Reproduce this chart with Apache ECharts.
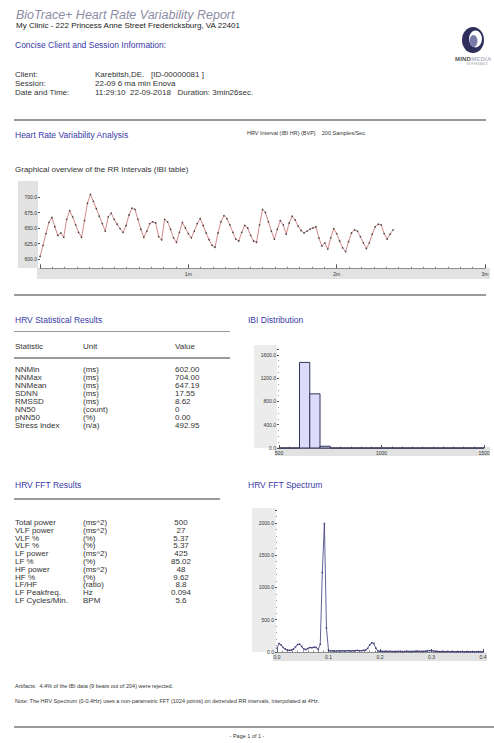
<!DOCTYPE html>
<html>
<head>
<meta charset="utf-8">
<title>BioTrace+ Heart Rate Variability Report</title>
<script src="https://cdn.jsdelivr.net/npm/echarts@6/dist/echarts.min.js"></script>
<style>
  body { margin: 0; background: #fff; font-family: "Liberation Sans", Arial, sans-serif; color: #333; }
  #page { position: relative; width: 494px; height: 743px; overflow: hidden; }
  #chart { position: absolute; left: 0; top: 0; width: 494px; height: 743px; }
  .t { position: absolute; white-space: nowrap; line-height: 1; font-size: 8px; }
  .h { color: #3a3aa8; font-size: 8.5px; }
  .tiny { font-size: 5.5px; }
  .rule { position: absolute; background: #9a9a9a; height: 2px; }
</style>
</head>
<body>
<div id="page">
  <div id="chart"></div>

  <div class="t" style="left:16px;top:9px;font-size:12.5px;font-style:italic;color:#8c8ca4">BioTrace+ Heart Rate Variability Report</div>
  <div class="t" style="left:16px;top:22px;color:#222">My Clinic - 222 Princess Anne Street Fredericksburg, VA 22401</div>

  <svg style="position:absolute;left:460px;top:26px" width="26" height="28" viewBox="0 0 26 28">
    <ellipse cx="13" cy="14" rx="11" ry="13" fill="#2e2e5c"/>
    <ellipse cx="15.5" cy="13" rx="6.5" ry="8.5" fill="#fff"/>
    <ellipse cx="13.5" cy="15" rx="4" ry="6" fill="#7a7aa8"/>
  </svg>
  <div class="t" style="left:455px;top:56px;font-size:6px;font-weight:bold;letter-spacing:0.2px"><span style="color:#555">MIND</span><span style="color:#b4b4cc">MEDIA</span></div>
  <div class="t" style="right:6px;top:63px;font-size:3px;color:#aaa">BIOFEEDBACK</div>

  <div class="t h" style="left:15px;top:41px">Concise Client and Session Information:</div>
  <div class="t" style="left:15px;top:71px">Client:</div>
  <div class="t" style="left:95px;top:71px">Karebitsh,DE.&nbsp;&nbsp;&nbsp;[ID-00000081 ]</div>
  <div class="t" style="left:15px;top:80px">Session:</div>
  <div class="t" style="left:95px;top:80px">22-09 6 ma min Enova</div>
  <div class="t" style="left:15px;top:89px">Date and Time:</div>
  <div class="t" style="left:95px;top:89px">11:29:10&nbsp;&nbsp;22-09-2018&nbsp;&nbsp;&nbsp;Duration: 3min26sec.</div>

  <div class="rule" style="left:14px;top:119px;width:472px"></div>
  <div class="t h" style="left:15px;top:131px">Heart Rate Variability Analysis</div>
  <div class="t tiny" style="left:247px;top:131px">HRV Interval (IBI HR) (BVP)&nbsp;&nbsp;&nbsp;&nbsp;200 Samples/Sec.</div>
  <div class="t" style="left:15px;top:166px">Graphical overview of the RR Intervals (IBI table)</div>
  <div class="rule" style="left:14px;top:294px;width:472px;height:1.5px"></div>

  <div class="t h" style="left:15px;top:316px">HRV Statistical Results</div>
  <div class="rule" style="left:14px;top:331px;width:216px;height:1px"></div>
  <div class="t" style="left:15px;top:343px">Statistic</div>
  <div class="t" style="left:83px;top:343px">Unit</div>
  <div class="t" style="left:175px;top:343px">Value</div>
  <div class="rule" style="left:14px;top:357px;width:216px"></div>
  <div id="statRows"></div>

  <div class="t h" style="left:248px;top:316px">IBI Distribution</div>

  <div class="t h" style="left:15px;top:481px">HRV FFT Results</div>
  <div class="rule" style="left:14px;top:498px;width:206px;height:1.5px"></div>
  <div id="fftRows"></div>

  <div class="t h" style="left:248px;top:481px">HRV FFT Spectrum</div>

  <div class="t" style="left:15px;top:684px;font-size:5.5px">Artifacts:&nbsp;&nbsp;4.4% of the IBI data (9 beats out of 204) were rejected.</div>
  <div class="t" style="left:15px;top:699px;font-size:5.5px">Note: The HRV Spectrum (0-0.4Hz) uses a non-parametric FFT (1024 points) on detrended RR intervals, interpolated at 4Hz.</div>
  <div class="rule" style="left:14px;top:726px;width:480px"></div>
  <div class="t" style="left:0;width:494px;text-align:center;top:734px;font-size:5.5px">- Page 1 of 1 -</div>
</div>

<script>
// RR intervals (ms), one value every rrStepSec seconds
const rrStepSec = 1.2;
const rrValues = [
  604, 622, 641, 659, 667, 652, 638, 642, 635, 664, 678, 668, 655, 643, 635, 662,
  690, 704, 693, 681, 669, 657, 645, 668, 674, 664, 656, 649, 643, 654, 671, 682,
  680, 664, 648, 635, 645, 657, 660, 658, 636, 631, 664, 660, 648, 634, 627, 643,
  659, 650, 641, 634, 645, 657, 665, 654, 642, 631, 622, 619, 642, 660, 670, 665,
  655, 643, 632, 629, 643, 654, 650, 638, 629, 627, 655, 680, 675, 660, 645, 632,
  648, 662, 655, 640, 658, 669, 663, 653, 646, 642, 645, 648, 650, 652, 634, 621,
  626, 616, 634, 649, 641, 629, 618, 612, 628, 642, 647, 645, 636, 626, 617, 626,
  640, 652, 656, 655, 641, 632, 640, 647
];
const rrTicks = [600, 625, 650, 675, 700];

// IBI histogram: bin edges (ms) and counts
const ibiBinStart = [500, 550, 600, 650, 700, 750, 800, 850, 900, 950, 1000, 1050, 1100, 1150, 1200, 1250, 1300, 1350, 1400, 1450];
const ibiBinWidth = 50;
const ibiCounts = [0, 0, 1470, 930, 30, 0, 0, 0, 0, 0, 0, 0, 0, 0, 0, 0, 0, 0, 0, 0];

// FFT spectrum (ms^2/Hz), one bin every fftStepHz
const fftStepHz = 0.004;
const fftPower = [
  60, 130, 110, 70, 45, 30, 25, 30, 45, 80, 115, 120, 85, 45, 40, 55,
  70, 65, 75, 70, 40, 120, 1230, 1990, 370, 25, 15, 20, 15, 15, 20, 15,
  20, 15, 20, 20, 15, 20, 20, 25, 20, 20, 25, 30, 55, 110, 145, 130,
  60, 15, 10, 10, 8, 10, 8, 10, 8, 6, 8, 10, 8, 6, 8, 10,
  8, 6, 8, 10, 12, 10, 8, 10, 12, 15, 20, 22, 15, 10, 8, 6,
  8, 6, 5, 6, 5, 6, 5, 4, 5, 6, 5, 4, 5, 4, 5, 4,
  5, 4, 5, 4, 5
];

// tables
const statNames = ["NNMin", "NNMax", "NNMean", "SDNN", "RMSSD", "NN50", "pNN50", "Stress Index"];
const statUnits = ["(ms)", "(ms)", "(ms)", "(ms)", "(ms)", "(count)", "(%)", "(n/a)"];
const statValues = ["602.00", "704.00", "647.19", "17.55", "8.62", "0", "0.00", "492.95"];

const fftNames = ["Total power", "VLF power", "VLF %", "VLF %", "LF power", "LF %", "HF power", "HF %", "LF/HF", "LF Peakfreq.", "LF Cycles/Min."];
const fftUnits = ["(ms^2)", "(ms^2)", "(%)", "(%)", "(ms^2)", "(%)", "(ms^2)", "(%)", "(ratio)", "Hz", "BPM"];
const fftValues = ["500", "27", "5.37", "5.37", "425", "85.02", "48", "9.62", "8.8", "0.094", "5.6"];

function addRows(el, names, units, values, top, step, valueX, center) {
  let html = "";
  names.forEach((n, i) => {
    const y = top + i * step;
    html += `<div class="t" style="left:15px;top:${y}px">${n}</div>`;
    html += `<div class="t" style="left:83px;top:${y}px">${units[i]}</div>`;
    if (center) {
      html += `<div class="t" style="left:${valueX - 20}px;width:40px;text-align:center;top:${y}px">${values[i]}</div>`;
    } else {
      html += `<div class="t" style="left:${valueX}px;top:${y}px">${values[i]}</div>`;
    }
  });
  document.getElementById(el).innerHTML = html;
}
addRows("statRows", statNames, statUnits, statValues, 365.5, 8.1, 175, false);
addRows("fftRows", fftNames, fftUnits, fftValues, 519, 7.8, 181, true);

const chart = echarts.init(document.getElementById("chart"), null, { renderer: "svg" });

const smallLabel = { fontSize: 5, color: "#333", fontFamily: "Liberation Sans, Arial, sans-serif" };
const band = "#e2e2e2";

const option = {
  animation: false,
  graphic: [
    { type: "rect", shape: { x: 18, y: 181, width: 20, height: 87 }, style: { fill: band }, z: -10 },
    { type: "rect", shape: { x: 37, y: 268, width: 453, height: 11 }, style: { fill: band }, z: -10 },
    { type: "rect", shape: { x: 254, y: 345, width: 23, height: 103 }, style: { fill: "#ececec" }, z: -10 },
    { type: "rect", shape: { x: 275, y: 447, width: 215, height: 9 }, style: { fill: band }, z: -10 },
    { type: "rect", shape: { x: 252, y: 508, width: 24, height: 144 }, style: { fill: "#ececec" }, z: -10 },
    { type: "rect", shape: { x: 273, y: 652, width: 214, height: 9 }, style: { fill: band }, z: -10 }
  ],
  grid: [
    { left: 40, top: 181.5, width: 445, height: 86.8 },
    { left: 279, top: 349, width: 205, height: 99 },
    { left: 277, top: 510, width: 206, height: 142 }
  ],
  xAxis: [
    {
      gridIndex: 0, type: "value", min: 0, max: 180, interval: 60,
      axisLine: { lineStyle: { color: "#777", width: 0.8 } },
      axisTick: { inside: true, length: 4, lineStyle: { color: "#555" } },
      minorTick: { show: true, splitNumber: 12, length: 1.5, lineStyle: { color: "#888" } },
      axisLabel: { ...smallLabel, margin: 3, formatter: v => (v === 0 ? "" : v / 60 + "m") },
      splitLine: { show: false }
    },
    {
      gridIndex: 1, type: "value", min: 500, max: 1500, interval: 500,
      axisLine: { lineStyle: { color: "#777", width: 0.8 } },
      axisTick: { inside: true, length: 3, lineStyle: { color: "#555" } },
      minorTick: { show: true, splitNumber: 10, length: 1.5, lineStyle: { color: "#888" } },
      axisLabel: { ...smallLabel, margin: 2, formatter: v => String(v) },
      splitLine: { show: false }
    },
    {
      gridIndex: 2, type: "value", min: 0, max: 0.4, interval: 0.1,
      axisLine: { lineStyle: { color: "#777", width: 0.8 } },
      axisTick: { inside: true, length: 3, lineStyle: { color: "#555" } },
      minorTick: { show: true, splitNumber: 10, length: 1.5, lineStyle: { color: "#888" } },
      axisLabel: { ...smallLabel, margin: 2, formatter: v => v.toFixed(1) },
      splitLine: { show: false }
    }
  ],
  yAxis: [
    {
      gridIndex: 0, type: "value", min: 585, max: 725,
      axisLine: { show: false },
      axisTick: { show: true, length: 2, customValues: rrTicks, lineStyle: { color: "#555" } },
      axisLabel: { ...smallLabel, margin: 3, customValues: rrTicks, formatter: v => v.toFixed(1) },
      splitLine: { show: false }
    },
    {
      gridIndex: 1, type: "value", min: 0, max: 1700, interval: 400,
      axisLine: { show: false },
      axisTick: { show: true, length: 2, lineStyle: { color: "#555" } },
      minorTick: { show: true, splitNumber: 4, length: 1, lineStyle: { color: "#999" } },
      axisLabel: { ...smallLabel, margin: 3, showMaxLabel: false, formatter: v => v.toFixed(1) },
      splitLine: { show: false }
    },
    {
      gridIndex: 2, type: "value", min: 0, max: 2200, interval: 500,
      axisLine: { show: false },
      axisTick: { show: true, length: 2, lineStyle: { color: "#555" } },
      minorTick: { show: true, splitNumber: 5, length: 1, lineStyle: { color: "#999" } },
      axisLabel: { ...smallLabel, margin: 3, showMaxLabel: false, formatter: v => v.toFixed(1) },
      splitLine: { show: false }
    }
  ],
  series: [
    {
      type: "line", xAxisIndex: 0, yAxisIndex: 0,
      data: rrValues.map((v, i) => [i * rrStepSec, v]),
      lineStyle: { color: "#c86a6a", width: 0.8 },
      symbol: "circle", symbolSize: 1.6,
      itemStyle: { color: "#444" }
    },
    {
      type: "custom", xAxisIndex: 1, yAxisIndex: 1,
      data: ibiBinStart.map((s, i) => [s, s + ibiBinWidth, ibiCounts[i]]),
      renderItem: (params, api) => {
        const p0 = api.coord([api.value(0), 0]);
        const p1 = api.coord([api.value(1), api.value(2)]);
        return {
          type: "rect",
          shape: { x: p0[0], y: p1[1], width: p1[0] - p0[0], height: p0[1] - p1[1] },
          style: { fill: "#dcdcfa", stroke: "#33335a", lineWidth: 1 }
        };
      }
    },
    {
      type: "line", xAxisIndex: 2, yAxisIndex: 2,
      data: fftPower.map((v, i) => [i * fftStepHz, v]),
      lineStyle: { color: "#3a3a78", width: 0.8 },
      symbol: "rect", symbolSize: 1.5,
      itemStyle: { color: "#3a3a78" }
    }
  ]
};

chart.setOption(option);
</script>
</body>
</html>
